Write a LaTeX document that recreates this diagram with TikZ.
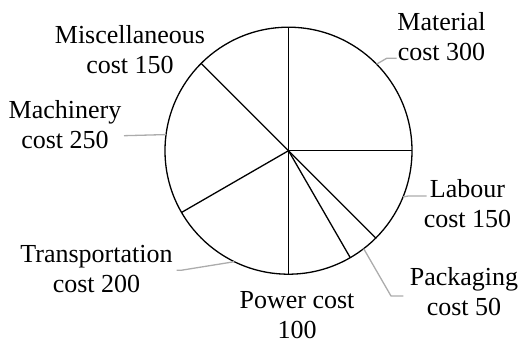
\documentclass[tikz,border=0pt]{standalone}
\usepackage{fontspec}
\setmainfont{Liberation Serif}

\begin{document}
\begin{tikzpicture}[x=1pt,y=-1pt]
    \tikzstyle{every node}=[font=\fontsize{26}{30}\selectfont, align=center, inner sep=0pt]
    \tikzstyle{slice}=[line width=1.3pt, black]
    \tikzstyle{leader}=[line width=1.3pt, gray!65]
    \useasboundingbox (0,0) rectangle (531,344);

    % pie
    \coordinate (c) at (288.5,150.7);
    \draw[slice] (c) circle (123.5);
    \path (c) ++(-90:123.5) coordinate (top)
          (c) ++(0:123.5) coordinate (right)
          (c) ++(45:123.5) coordinate (lab)
          (c) ++(60:123.5) coordinate (pack)
          (c) ++(90:123.5) coordinate (bottom)
          (c) ++(150:123.5) coordinate (trans)
          (c) ++(-135:123.5) coordinate (mach);
    \draw[slice] (c) -- (top);
    \draw[slice] (c) -- (right);
    \draw[slice] (c) -- (lab);
    \draw[slice] (c) -- (pack);
    \draw[slice] (c) -- (bottom);
    \draw[slice] (c) -- (trans);
    \draw[slice] (c) -- (mach);

    % labels
    \node (material) at (441.5,37) {Material\\cost 300};
    \node (labour) at (467.5,204) {Labour\\cost 150};
    \node (packaging) at (464,291.5) {Packaging\\cost 50};
    \node (power) at (297,315.5) {Power cost\\100};
    \node (transport) at (96.5,269) {Transportation\\cost 200};
    \node (machinery) at (65,125) {Machinery\\cost 250};
    \node (misc) at (130,50) {Miscellaneous\\cost 150};

    % leaders
    \path (c) ++(-44.5:123.5) coordinate (m1);
    \coordinate (m2) at (396.7,58.3);
    \draw[leader] (m1) -- (386.7,58.3) -- (m2);
    \path (c) ++(22:123.5) coordinate (l1);
    \coordinate (l2) at (426.5,196);
    \draw[leader] (l1) -- (408.3,196) -- (l2);
    \path (c) ++(52.5:123.5) coordinate (p1);
    \coordinate (p2) at (403.3,296);
    \draw[leader] (p1) -- (391,296) -- (p2);
    \path (c) ++(116:123.5) coordinate (t1);
    \coordinate (t2) at (176.7,270.3);
    \draw[leader] (t1) -- (181,270.3) -- (t2);
    \path (c) ++(-172.5:123.5) coordinate (k1);
    \coordinate (k2) at (124,135.7);
    \draw[leader] (k1) -- (k2);
\end{tikzpicture}
\end{document}
